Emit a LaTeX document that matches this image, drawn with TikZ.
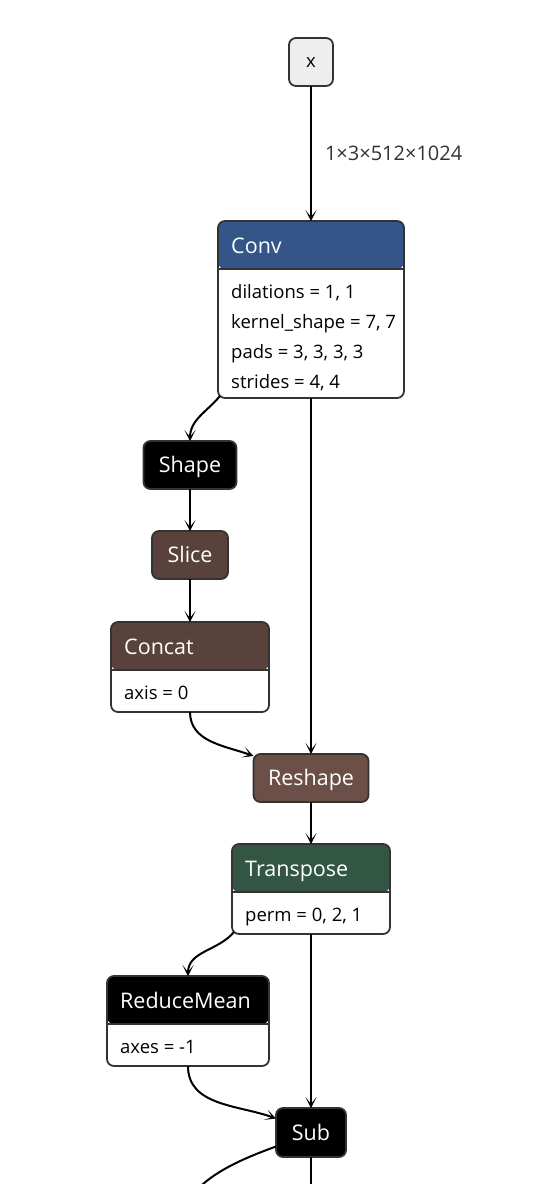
\documentclass[tikz,border=0pt]{standalone}
\usepackage{fontspec}
\setmainfont{Open Sans}
\usetikzlibrary{
    arrows.meta,
    positioning
}
\definecolor{inputgray}{RGB}{238,238,238}
\definecolor{layerblue}{RGB}{51,85,136}
\definecolor{tensorbrown}{RGB}{89,66,59}
\definecolor{shapebrown}{RGB}{108,79,71}
\definecolor{transformgreen}{RGB}{51,85,68}
\definecolor{bordergray}{RGB}{51,51,51}
\tikzset{
    opnode/.style={
        draw=bordergray,
        rounded corners=7pt,
        line width=1.8pt,
        inner sep=0pt,
        outer sep=0pt,
        minimum height=48pt,
        text height=15.4pt,
        text depth=0pt,
        text=white,
        font=\fontsize{21.5}{25}\selectfont
    },
    attrnode/.style={
        draw=bordergray,
        fill=white,
        rounded corners=7pt,
        line width=1.8pt,
        inner sep=0pt,
        outer sep=0pt,
        minimum height=90pt,
        path picture={
            \fill[#1] (path picture bounding box.north west) rectangle
                ([yshift=-48pt]path picture bounding box.north east);
            \draw[bordergray, line width=1.8pt]
                ([yshift=-48pt]path picture bounding box.north west) --
                ([yshift=-48pt]path picture bounding box.north east);
        }
    },
    optitle/.style={
        anchor=base west,
        inner sep=0pt,
        text=white,
        font=\fontsize{21.5}{25}\selectfont
    },
    attrtext/.style={
        anchor=base west,
        inner sep=0pt,
        align=left,
        font=\fontsize{18.5}{29.7}\selectfont
    },
    dimlabel/.style={
        right,
        inner sep=0pt,
        xshift=13pt,
        text=bordergray,
        font=\fontsize{20}{24}\selectfont
    },
    wire/.style={
        -{Stealth[length=11pt,width=11pt,inset=7pt]},
        line width=2pt
    }
}

\begin{document}
\begin{tikzpicture}[x=1pt, y=1pt]

\useasboundingbox (0,0) rectangle (552,-1184);
\clip (0,0) rectangle (552,-1184);

\node[opnode, fill=inputgray, text=black, minimum width=44pt, text height=10pt, font=\fontsize{18.5}{22}\selectfont] (x) at (311,-62) {x};

\node[attrnode=layerblue, minimum width=186pt, minimum height=177pt, below=135pt of x] (conv) {};
\node[optitle] (convtitle) at ([xshift=13pt, yshift=-32pt]conv.north west) {Conv};
\node[attrtext] (convattr) at ([xshift=13pt, yshift=-167pt]conv.north west) {dilations = 1, 1\\kernel\_shape = 7, 7\\pads = 3, 3, 3, 3\\strides = 4, 4};

\node[opnode, fill=black, minimum width=93pt, below=43pt of conv, xshift=-121pt] (shape) {Shape};
\node[opnode, fill=tensorbrown, minimum width=76pt, below=42pt of shape] (slice) {Slice};

\node[attrnode=tensorbrown, minimum width=158pt, below=43pt of slice] (concat) {};
\node[optitle] (concattitle) at ([xshift=13pt, yshift=-32pt]concat.north west) {Concat};
\node[attrtext] (concatattr) at ([xshift=13pt, yshift=-77pt]concat.north west) {axis = 0};

\node[opnode, fill=shapebrown, minimum width=115pt, below=356pt of conv] (reshape) {Reshape};

\node[attrnode=transformgreen, minimum width=158pt, below=42pt of reshape] (transpose) {};
\node[optitle] (transposetitle) at ([xshift=13pt, yshift=-32pt]transpose.north west) {Transpose};
\node[attrtext] (transposeattr) at ([xshift=13pt, yshift=-77pt]transpose.north west) {perm = 0, 2, 1};

\node[attrnode=black, minimum width=162pt, below=42pt of transpose, xshift=-123pt] (reducemean) {};
\node[optitle] (reducemeantitle) at ([xshift=13pt, yshift=-32pt]reducemean.north west) {ReduceMean};
\node[attrtext] (reducemeanattr) at ([xshift=13pt, yshift=-77pt]reducemean.north west) {axes = -1};

\node[opnode, fill=black, minimum width=70pt, minimum height=49pt, below=174pt of transpose] (sub) {Sub};

\coordinate[below=60pt of sub] (subdown);
\coordinate (subleft) at (178,-1240);

\draw[wire] (x) -- node[dimlabel] (xdim) {1×3×512×1024} (conv);
\draw[wire] ([xshift=2pt, yshift=2pt]conv.south west) to[out=-130, in=90] (shape.north);
\draw[wire] (shape) -- (slice);
\draw[wire] (slice) -- (concat);
\draw[wire] (conv) -- (reshape);
\draw[wire] (concat.south) to[out=-90, in=160] ([yshift=-2pt]reshape.north west);
\draw[wire] (reshape) -- (transpose);
\draw[wire] ([xshift=2pt, yshift=2pt]transpose.south west) to[out=-130, in=90] (reducemean.north);
\draw[wire] (transpose) -- (sub);
\draw[wire] (reducemean.south) to[out=-90, in=160] ([yshift=14pt]sub.west);
\draw[wire] (sub) -- (subdown);
\draw[wire] ([yshift=-14pt]sub.west) to[out=200, in=90] (subleft);

\end{tikzpicture}
\end{document}
